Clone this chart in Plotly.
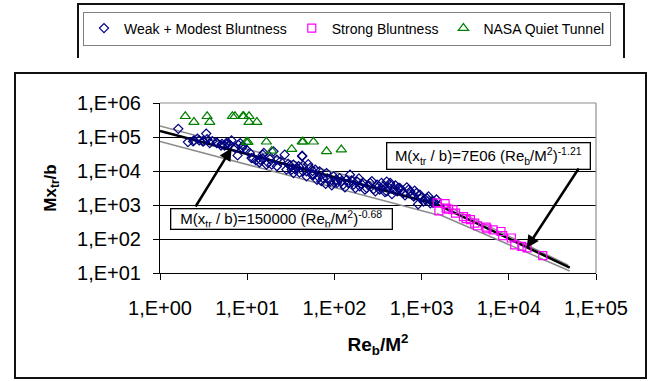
import plotly.graph_objects as go

# ---------------- data ----------------
weak_x = [1.62, 2.45, 2.69, 3.09, 3.39, 3.47, 3.72, 4.47, 5.13, 5.50, 6.03, 6.61, 7.24, 7.76, 7.94,
          8.32, 8.91, 9.77, 11.2, 12.6, 13.8, 15.1, 15.5, 16.6, 18.2, 20.0, 21.9, 24.0, 26.9, 29.5,
          32.4, 33.9, 37.2, 42.7, 43.7, 47.9, 55.0, 60.3, 66.1, 2.40, 3.16, 4.47, 5.75, 6.31, 8.71,
          10.7, 11.7, 14.1, 15.1, 17.4, 19.1, 21.9, 28.2, 30.9, 33.9, 38.9, 42.7, 43.7, 47.9, 52.5,
          57.5, 63.1, 67.6, 74.1, 81.3, 89.1, 97.7, 107, 115, 126, 138, 151, 166, 182, 195,
          214, 234, 257, 282, 309, 331, 363, 398, 437, 479, 537, 617, 708, 398, 437,
          562, 741, 813, 871, 1000, 1100, 1200, 1320, 1350, 1480, 70.8, 79.4, 93.3, 105, 120,
          132, 158, 174, 191, 204, 224, 245, 269, 295, 324, 347, 380, 417, 457, 501,
          525, 589, 646, 676, 776, 832, 912, 955, 1050, 1150, 1260, 1410, 50.1, 39.8, 83.2,
          100, 145, 56.2, 35.5, 2.09, 2.82, 3.98, 5.01]
weak_y = [174000, 79400, 89100, 74100, 126000, 87100, 66100, 66100, 63100, 56200, 66100, 79400, 47900, 28800, 58900,
          66100, 55000, 42700, 24000, 20400, 17800, 22900, 33900, 15500, 22400, 38000, 13800, 19100, 30200, 16200,
          11000, 15500, 12300, 26900, 14500, 9770, 7760, 11000, 6610, 74100, 74100, 69200, 66100, 58900, 47900,
          33900, 24000, 21400, 30200, 17400, 15500, 21400, 11000, 14500, 8710, 13800, 28200, 9770, 6920, 12300,
          7760, 5500, 9770, 6170, 8710, 4900, 6920, 4470, 6170, 3980, 5500, 7760, 3980, 4900, 3550,
          4570, 3160, 4470, 2950, 3980, 2820, 3550, 2510, 4470, 2820, 3160, 2240, 2820, 4900, 3980,
          3160, 2510, 1780, 2240, 1620, 1450, 1780, 1290, 1150, 1450, 5010, 4170, 3800, 5620, 5010,
          3310, 5250, 3160, 6030, 4170, 2820, 3800, 5010, 2510, 3550, 4470, 2400, 3310, 2090, 3800,
          2510, 2750, 1910, 3310, 2000, 2630, 1050, 2000, 1260, 1580, 1120, 1200, 15800, 8910, 6030,
          4570, 4370, 10000, 11200, 70800, 79400, 75900, 56200]

strong_x = [1510, 1580, 1860, 1910, 2040, 2290, 2450, 3020, 3240, 3630, 4070, 4370, 5500, 5620,
            6610, 8130, 8510, 10700, 11700, 14100, 16200, 24500]
strong_y = [1150, 676, 1100, 813, 759, 724, 575, 457, 398, 372, 295, 245, 224, 200,
            186, 166, 126, 107, 67.6, 60.3, 55.0, 32.4]

nasa_x = [1.95, 2.45, 3.47, 3.72, 6.76, 7.24, 8.91, 9.12, 10.5, 10.5, 12.9, 9.77, 10.2, 16.6,
          19.1, 32.4, 42.7, 43.7, 57.5, 81.3, 120]
nasa_y = [407000, 275000, 407000, 275000, 407000, 407000, 407000, 407000, 407000, 275000, 275000,
          70800, 70800, 72400, 38900, 43700, 72400, 72400, 72400, 38000, 42700]

# fit / band lines (end points)
fit_x = [1, 1500, 50000]
fit_y = [150000, 1040, 14.4]
band1_up_x = [1, 1500]
band1_up_y = [210000, 1450]
band1_lo_x = [1, 1500]
band1_lo_y = [74000, 515]
band2_up_x = [1500, 48000]
band2_up_y = [1300, 17]
band2_lo_x = [1500, 50000]
band2_lo_y = [560, 11.5]

x_tickvals = [1, 10, 100, 1000, 10000, 100000]
x_ticktext = ["1,E+00", "1,E+01", "1,E+02", "1,E+03", "1,E+04", "1,E+05"]
y_tickvals = [10, 100, 1000, 10000, 100000, 1000000]
y_ticktext = ["1,E+01", "1,E+02", "1,E+03", "1,E+04", "1,E+05", "1,E+06"]

legend_names = ["Weak + Modest Bluntness", "Strong Bluntness", "NASA Quiet Tunnel"]
fit1_label = "M(x<sub>tr</sub> / b)=150000 (Re<sub>b</sub>/M<sup>2</sup>)<sup>-0.68</sup>"
fit2_label = "M(x<sub>tr</sub> / b)=7E06 (Re<sub>b</sub>/M<sup>2</sup>)<sup>-1.21</sup>"

# ---------------- layout helpers ----------------
W, H = 651, 381
L, R, T, B = 160, 55, 103, 108
PW, PH = W - L - R, H - T - B


def pxx(p):
    return (p - L) / PW


def pxy(p):
    return (H - B - p) / PH


FONT = "Arial, 'Liberation Sans', sans-serif"

fig = go.Figure()

grey = "#8c8c8c"
for bx, by in [(band1_up_x, band1_up_y), (band1_lo_x, band1_lo_y),
               (band2_up_x, band2_up_y), (band2_lo_x, band2_lo_y)]:
    fig.add_trace(go.Scatter(x=bx, y=by, mode="lines", line=dict(color=grey, width=1.5),
                             showlegend=False, hoverinfo="skip"))
fig.add_trace(go.Scatter(x=fit_x, y=fit_y, mode="lines", line=dict(color="black", width=2.6),
                         showlegend=False, hoverinfo="skip"))

fig.add_trace(go.Scatter(x=weak_x, y=weak_y, mode="markers", name=legend_names[0],
                         marker=dict(symbol="diamond-open", size=7, color="#000080",
                                     line=dict(width=1.2, color="#000080"))))
fig.add_trace(go.Scatter(x=strong_x, y=strong_y, mode="markers", name=legend_names[1],
                         marker=dict(symbol="square-open", size=8, color="#FF00FF",
                                     line=dict(width=1.2, color="#FF00FF"))))
fig.add_trace(go.Scatter(x=nasa_x, y=nasa_y, mode="markers", name=legend_names[2],
                         marker=dict(symbol="triangle-up-open", size=9, color="#008000",
                                     line=dict(width=1.2, color="#008000"))))

shapes = []
# plot-area border (grey top/right)
shapes.append(dict(type="line", xref="paper", yref="paper", x0=0, x1=1, y0=1, y1=1,
                   line=dict(color=grey, width=1.2), layer="above"))
shapes.append(dict(type="line", xref="paper", yref="paper", x0=1, x1=1, y0=0, y1=1,
                   line=dict(color=grey, width=1.2), layer="above"))
# lower outer frame
shapes.append(dict(type="rect", xref="paper", yref="paper", x0=pxx(15), x1=pxx(646),
                   y0=pxy(378), y1=pxy(73), line=dict(color="#111111", width=2)))
# upper frame (open at bottom)
shapes.append(dict(type="path", xref="paper", yref="paper",
                   path=f"M {pxx(78)},{pxy(58)} L {pxx(78)},{pxy(4)} L {pxx(624)},{pxy(4)} L {pxx(624)},{pxy(58)}",
                   line=dict(color="#111111", width=2)))
fig.update_layout(shapes=shapes)

annotations = [
    dict(xref="paper", yref="paper", x=pxx(281.7), y=pxy(218.8), xanchor="center", yanchor="middle",
         text=fit1_label, showarrow=False, font=dict(family=FONT, size=15, color="black"),
         bgcolor="white", bordercolor="black", borderwidth=1.3, borderpad=1,
         width=218, height=17),
    dict(xref="paper", yref="paper", x=pxx(488), y=pxy(155.5), xanchor="center", yanchor="middle",
         text=fit2_label, showarrow=False, font=dict(family=FONT, size=15, color="black"),
         bgcolor="white", bordercolor="black", borderwidth=1.3, borderpad=1,
         width=200, height=23),
    dict(xref="x", yref="y", x=0.822, y=4.676, text="", showarrow=True,
         ax=-37, ay=60, arrowhead=2, arrowsize=1, arrowwidth=2.5, arrowcolor="black"),
    dict(xref="x", yref="y", x=4.205, y=1.735, text="", showarrow=True,
         ax=53, ay=-81, arrowhead=2, arrowsize=1, arrowwidth=2.5, arrowcolor="black"),
]

fig.update_layout(
    width=W, height=H,
    margin=dict(l=L, r=R, t=T, b=B),
    paper_bgcolor="white", plot_bgcolor="white",
    font=dict(family=FONT, color="black"),
    annotations=annotations,
    legend=dict(orientation="h", xref="paper", yref="paper",
                x=pxx(83), y=pxy(28.5), xanchor="left", yanchor="middle",
                bgcolor="white", bordercolor="#808080", borderwidth=1,
                font=dict(family=FONT, size=14, color="black"), itemwidth=30),
    xaxis=dict(type="log", range=[0, 5], tickvals=x_tickvals, ticktext=x_ticktext,
               showgrid=False, zeroline=False, showline=True, linecolor="black", linewidth=1,
               ticks="outside", ticklen=6, tickcolor="black", ticklabelstandoff=11,
               tickfont=dict(family=FONT, size=20, color="black"),
               title=dict(text="<b>Re<sub>b</sub>/M<sup>2</sup></b>", standoff=19,
                          font=dict(family=FONT, size=19, color="black"))),
    yaxis=dict(type="log", range=[1, 6], tickvals=y_tickvals, ticktext=y_ticktext,
               showgrid=True, gridcolor="black", gridwidth=1, zeroline=False,
               showline=True, linecolor="black", linewidth=1,
               ticks="outside", ticklen=6, tickcolor="black", ticklabelstandoff=8,
               tickfont=dict(family=FONT, size=20, color="black"),
               title=dict(text="<b>Mx<sub>tr</sub>/b</b>", standoff=16,
                          font=dict(family=FONT, size=17, color="black"))),
)

fig.write_html("out.html")
